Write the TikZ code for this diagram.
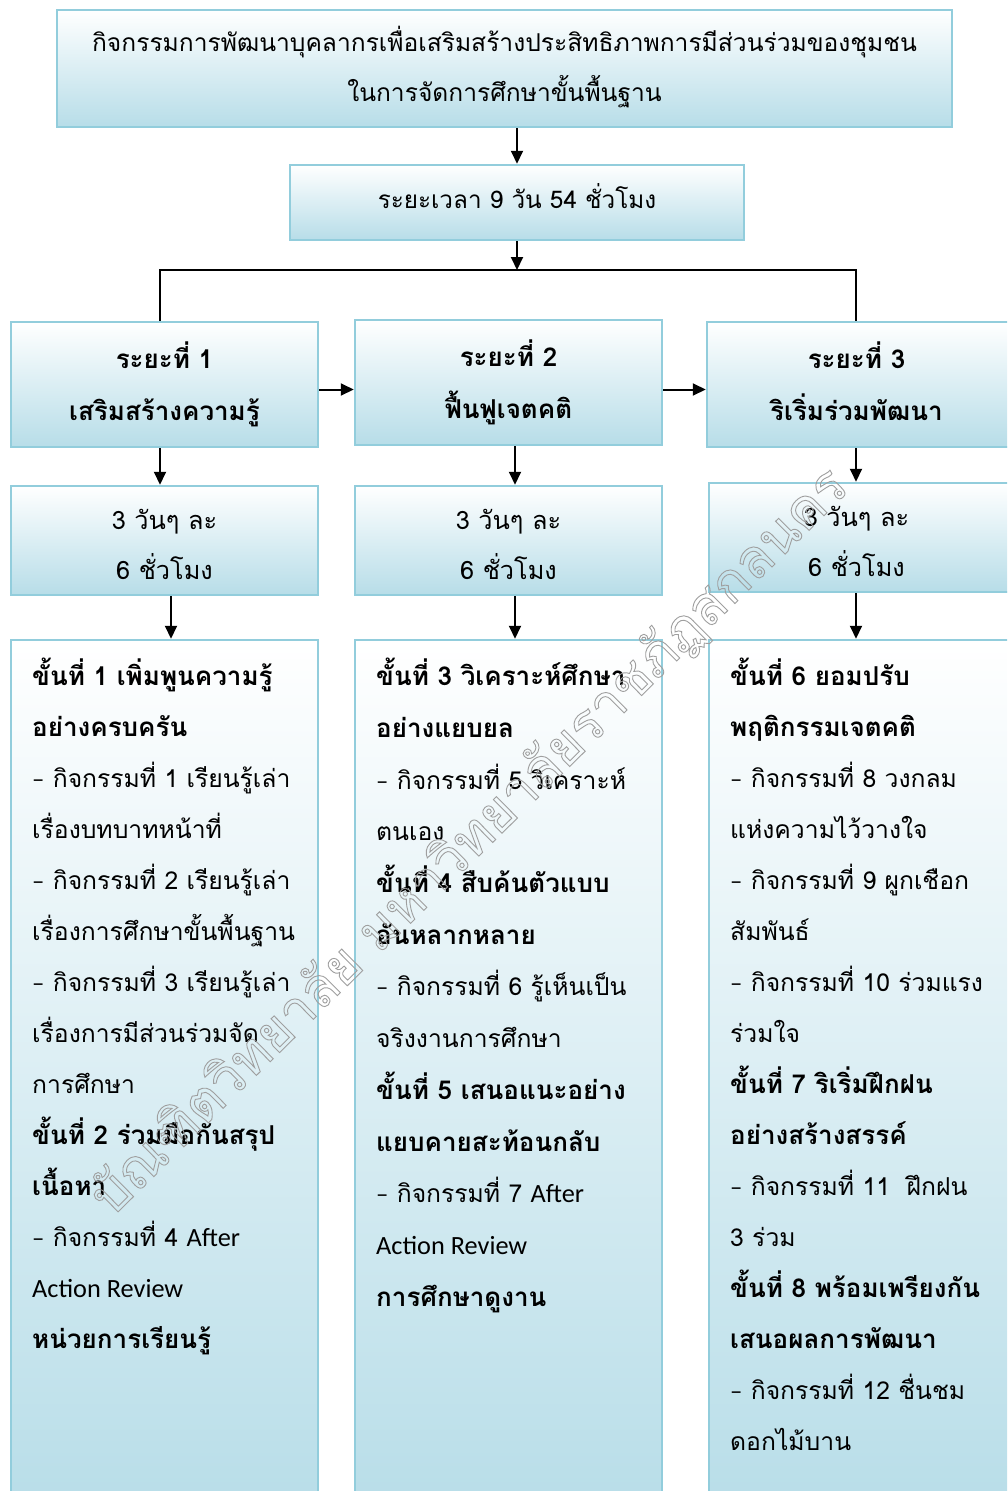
\documentclass[tikz,border=0pt]{standalone}
\usepackage{fontspec}
\setmainfont{Loma}[Script=Thai]
\newfontfamily\latinf{Carlito}
\usetikzlibrary{arrows.meta}
\definecolor{bordc}{RGB}{146,205,220}
\definecolor{fillc}{RGB}{183,221,232}
\newcommand{\dsh}{{\latinf –}}
\newcommand{\eng}[1]{{\latinf\fontsize{26.3}{51}\selectfont #1}}
\newcommand{\bl}[1]{{\bfseries\fontsize{26}{51}\selectfont #1}}
\begin{document}
\begin{tikzpicture}[x=1pt,y=-1pt,
  box/.style={draw=bordc, line width=2.5pt, top color=white, bottom color=fillc,
    rectangle, inner sep=0pt, align=center},
  txt/.style={font=\fontsize{24.6}{50}\selectfont, align=center},
  dtxt/.style={font=\fontsize{25.3}{50}\selectfont, align=center},
  btxt/.style={font=\bfseries\fontsize{26}{52}\selectfont, align=center},
  body/.style={anchor=north west, inner sep=0pt, align=left, font=\fontsize{24.7}{51}\selectfont},
  arr/.style={line width=2pt, -{Triangle[length=13pt,width=12pt]}},
  busline/.style={line width=1.6pt}
]
\useasboundingbox (0,0) rectangle (1007,1491);
\fill[white] (0,0) rectangle (1007,1491);
\clip (0,0) rectangle (1007,1491);

% top boxes
\node[box, minimum width=895pt, minimum height=117pt] (top) at (504.5,68.5) {};
\node[txt] (toptxt) at ([yshift=1pt]top.center) {กิจกรรมการพัฒนาบุคลากรเพื่อเสริมสร้างประสิทธิภาพการมีส่วนร่วมของชุมชน\\ในการจัดการศึกษาขั้นพื้นฐาน};
\node[box, minimum width=454pt, minimum height=75pt] (per) at (517,202.5) {};
\node[txt, font=\fontsize{24.3}{50}\selectfont] (pertxt) at ([yshift=6pt]per.center) {ระยะเวลา 9 วัน 54 ชั่วโมง};

% phase boxes
\node[box, minimum width=307pt, minimum height=125pt] (p1) at (164.5,384.5) {};
\node[btxt] (p1t) at (p1.center) {ระยะที่ 1\\เสริมสร้างความรู้};
\node[box, minimum width=307pt, minimum height=125pt] (p2) at (508.5,382.5) {};
\node[btxt] (p2t) at (p2.center) {ระยะที่ 2\\ฟื้นฟูเจตคติ};
\node[box, minimum width=307pt, minimum height=125pt] (p3) at (860.5,384.5) {};
\node[btxt] (p3t) at ([xshift=-4pt,yshift=3pt]p3.center) {ระยะที่ 3\\ริเริ่มร่วมพัฒนา};

% duration boxes
\node[box, minimum width=307pt, minimum height=109pt] (d1) at (164.5,540.5) {};
\node[dtxt] (d1t) at ([yshift=-4pt]d1.center) {3 วันๆ ละ\\6 ชั่วโมง};
\node[box, minimum width=307pt, minimum height=109pt] (d2) at (508.5,540.5) {};
\node[dtxt] (d2t) at ([yshift=-4pt]d2.center) {3 วันๆ ละ\\6 ชั่วโมง};
\node[box, minimum width=305pt, minimum height=109pt] (d3) at (861.5,537.5) {};
\node[dtxt] (d3t) at ([xshift=-5pt,yshift=-4pt]d3.center) {3 วันๆ ละ\\6 ชั่วโมง};

% detail boxes
\node[box, minimum width=307pt, minimum height=880pt] (e1) at (164.5,1080) {};
\node[box, minimum width=307pt, minimum height=880pt] (e2) at (508.5,1080) {};
\node[box, minimum width=305pt, minimum height=880pt] (e3) at (861.5,1080) {};

\node[body] (e1t) at (32,658) {%
\bl{ขั้นที่ 1 เพิ่มพูนความรู้}\\
\bl{อย่างครบครัน}\\
\dsh{} กิจกรรมที่ 1 เรียนรู้เล่า\\
เรื่องบทบาทหน้าที่\\
\dsh{} กิจกรรมที่ 2 เรียนรู้เล่า\\
เรื่องการศึกษาขั้นพื้นฐาน\\
\dsh{} กิจกรรมที่ 3 เรียนรู้เล่า\\
เรื่องการมีส่วนร่วมจัด\\
การศึกษา\\
\bl{ขั้นที่ 2 ร่วมมือกันสรุป}\\
\bl{เนื้อหา}\\
\dsh{} กิจกรรมที่ 4 \eng{After}\\
\eng{Action Review}\\
\bl{หน่วยการเรียนรู้}};

\node[body, font=\fontsize{24.7}{51.7}\selectfont] (e2t) at (376,658) {%
\bl{ขั้นที่ 3 วิเคราะห์ศึกษา}\\
\bl{อย่างแยบยล}\\
\dsh{} กิจกรรมที่ 5 วิเคราะห์\\
ตนเอง\\
\bl{ขั้นที่ 4 สืบค้นตัวแบบ}\\
\bl{อันหลากหลาย}\\
\dsh{} กิจกรรมที่ 6 รู้เห็นเป็น\\
จริงงานการศึกษา\\
\bl{ขั้นที่ 5 เสนอแนะอย่าง}\\
\bl{แยบคายสะท้อนกลับ}\\
\dsh{} กิจกรรมที่ 7 \eng{After}\\
\eng{Action Review}\\
\bl{การศึกษาดูงาน}};

\node[body] (e3t) at (730,658) {%
\bl{ขั้นที่ 6 ยอมปรับ}\\
\bl{พฤติกรรมเจตคติ}\\
\dsh{} กิจกรรมที่ 8 วงกลม\\
แห่งความไว้วางใจ\\
\dsh{} กิจกรรมที่ 9 ผูกเชือก\\
สัมพันธ์\\
\dsh{} กิจกรรมที่ 10 ร่วมแรง\\
ร่วมใจ\\
\bl{ขั้นที่ 7 ริเริ่มฝึกฝน}\\
\bl{อย่างสร้างสรรค์}\\
\dsh{} กิจกรรมที่ 11~ ฝึกฝน\\
3 ร่วม\\
\bl{ขั้นที่ 8 พร้อมเพรียงกัน}\\
\bl{เสนอผลการพัฒนา}\\
\dsh{} กิจกรรมที่ 12 ชื่นชม\\
ดอกไม้บาน};

% connectors
\draw[arr] (top.south -| per.north) -- (per.north);
\coordinate (bus) at (517,270);
\draw[arr] (per.south) -- (bus);
\draw[busline] ([xshift=-4.5pt]p1.north) -- ([xshift=-4.5pt]p1.north |- bus)
  -- ([xshift=-4.5pt]p3.north |- bus) -- ([xshift=-4.5pt]p3.north);
\draw[arr] ([yshift=-5pt]p1.east) -- ([yshift=-5pt]p1.east -| p2.west);
\draw[arr] ([yshift=-5pt]p1.east -| p2.east) -- ([yshift=-5pt]p1.east -| p3.west);
\draw[arr] ([xshift=-4.5pt]p1.south) -- ([xshift=-4.5pt]d1.north);
\draw[arr] ([xshift=6.5pt]p2.south) -- ([xshift=6.5pt]d2.north);
\draw[arr] ([xshift=-4.5pt]p3.south) -- ([xshift=-4.5pt]p3.south |- d3.north);
\draw[arr] ([xshift=6.5pt]d1.south) -- ([xshift=6.5pt]e1.north);
\draw[arr] ([xshift=6.5pt]d2.south) -- ([xshift=6.5pt]e2.north);
\draw[arr] ([xshift=-5.5pt]d3.south) -- ([xshift=-5.5pt]e3.north);

% watermark (outlined text)
\node[rotate=44.6, inner sep=0pt, font=\fontsize{54}{58}\selectfont, text=gray!75] (wm) at (470,842)
  {\special{pdf:literal direct 1 Tr 0.9 w}บัณฑิตวิทยาลัย มหาวิทยาลัยราชภัฏสกลนคร\special{pdf:literal direct 0 Tr}};
\end{tikzpicture}
\end{document}
